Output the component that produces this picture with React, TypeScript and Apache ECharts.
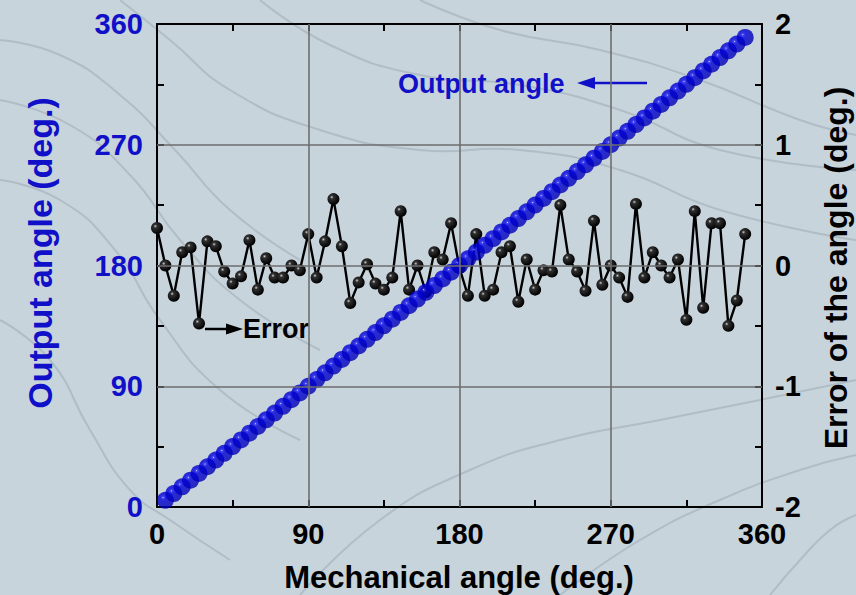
import React, { useEffect, useRef } from "react";
import * as echarts from "echarts";

const errAngles = [0,5,10,15,20,25,30,35,40,45,50,55,60,65,70,75,80,85,90,95,100,105,110,115,120,125,130,135,140,145,150,155,160,165,170,175,180,185,190,195,200,205,210,215,220,225,230,235,240,245,250,255,260,265,270,275,280,285,290,295,300,305,310,315,320,325,330,335,340,345,350];
const errValues = [0.31,0.00,-0.25,0.11,0.15,-0.48,0.20,0.16,-0.05,-0.15,-0.09,0.21,-0.20,0.06,-0.10,-0.10,0.00,-0.04,0.26,-0.10,0.20,0.55,0.16,-0.31,-0.14,0.01,-0.15,-0.20,-0.10,0.45,-0.20,0.00,-0.22,0.11,0.05,0.35,-0.02,-0.25,0.26,-0.25,-0.20,0.11,0.16,-0.30,0.05,-0.20,-0.04,-0.05,0.50,0.05,-0.05,-0.21,0.37,-0.16,0.00,-0.10,-0.26,0.51,-0.10,0.11,0.00,-0.10,0.05,-0.45,0.45,-0.35,0.35,0.35,-0.50,-0.29,0.26];
const mechAngles = [5,10,15,20,25,30,35,40,45,50,55,60,65,70,75,80,85,90,95,100,105,110,115,120,125,130,135,140,145,150,155,160,165,170,175,180,185,190,195,200,205,210,215,220,225,230,235,240,245,250,255,260,265,270,275,280,285,290,295,300,305,310,315,320,325,330,335,340,345,350];
const outputAngles = [5,10,15,20,25,30,35,40,45,50,55,60,65,70,75,80,85,90,95,100,105,110,115,120,125,130,135,140,145,150,155,160,165,170,175,180,185,190,195,200,205,210,215,220,225,230,235,240,245,250,255,260,265,270,275,280,285,290,295,300,305,310,315,320,325,330,335,340,345,350];
const angleTicks = [0, 90, 180, 270, 360];
const gridAngles = [90, 180, 270];
const errorTicks = [-2, -1, 0, 1, 2];

const FONT = "'Liberation Sans', Arial, sans-serif";
const BLUE = "#1010c8";
const BG = "#c8d4dc";

// decorative background contour lines (page pixels)
const contours: number[][][] = [
  [[0, 40], [60, 55], [120, 95], [175, 150], [230, 210], [300, 260]],
  [[0, 100], [70, 125], [130, 175], [180, 240], [240, 300], [320, 350]],
  [[0, 180], [60, 200], [115, 250], [160, 320], [220, 390], [300, 440]],
  [[0, 320], [50, 360], [90, 430], [130, 490], [170, 520], [230, 560]],
  [[120, 0], [170, 40], [230, 90], [320, 130], [420, 150], [520, 150], [620, 170], [720, 210], [856, 240]],
  [[260, 0], [330, 45], [420, 75], [520, 85], [620, 110], [720, 150], [856, 170]],
  [[420, 0], [500, 30], [600, 50], [700, 80], [800, 120], [856, 135]],
  [[300, 595], [380, 520], [470, 470], [560, 440], [660, 420], [760, 400], [856, 380]],
  [[560, 595], [640, 540], [720, 500], [800, 470], [856, 455]],
  [[770, 595], [800, 560], [830, 530], [856, 515]],
];

export default function App() {
  const ref = useRef<HTMLDivElement>(null);
  useEffect(() => {
    if (!ref.current) return;
    const chart = echarts.init(ref.current, undefined, { renderer: "svg" });
    const axisLine = () => ({ show: true, onZero: false, lineStyle: { color: "#000", width: 2 } });
    const tick = () => ({ show: true, inside: true, length: 7, lineStyle: { color: "#000", width: 2 } });
    const blueBall = {
      type: "radial", x: 0.36, y: 0.34, r: 0.66,
      colorStops: [
        { offset: 0, color: "#e6e6ff" },
        { offset: 0.08, color: "#2424ff" },
        { offset: 0.25, color: "#0000d8" },
        { offset: 1, color: "#0000b4" },
      ],
    };
    const blackBall = {
      type: "radial", x: 0.36, y: 0.34, r: 0.66,
      colorStops: [
        { offset: 0, color: "#d0d0d0" },
        { offset: 0.22, color: "#303030" },
        { offset: 1, color: "#000" },
      ],
    };
    const labelFmt = (list: number[]) => (v: number) => (list.includes(v) ? String(v) : "");
    chart.setOption({
      animation: false,
      backgroundColor: BG,
      grid: { left: 157, right: 94, top: 24, bottom: 88, containLabel: false },
      xAxis: [
        {
          type: "value", min: 0, max: 360, interval: 45, position: "bottom",
          axisLine: axisLine(), axisTick: tick(), splitLine: { show: false },
          axisLabel: {
            show: true, margin: 12, color: "#000", fontSize: 29, fontWeight: "bold", fontFamily: FONT,
            formatter: labelFmt(angleTicks),
          },
        },
        {
          type: "value", min: 0, max: 360, interval: 45, position: "top",
          axisLine: axisLine(), axisTick: tick(), splitLine: { show: false }, axisLabel: { show: false },
        },
      ],
      yAxis: [
        {
          type: "value", min: 0, max: 360, interval: 45, position: "left",
          axisLine: axisLine(), axisTick: tick(), splitLine: { show: false },
          axisLabel: {
            show: true, margin: 14, color: BLUE, fontSize: 29, fontWeight: "bold", fontFamily: FONT,
            formatter: labelFmt(angleTicks),
          },
        },
        {
          type: "value", min: -2, max: 2, interval: 0.5, position: "right",
          axisLine: axisLine(), axisTick: tick(), splitLine: { show: false },
          axisLabel: {
            show: true, margin: 13, color: "#000", fontSize: 29, fontWeight: "bold", fontFamily: FONT,
            formatter: labelFmt(errorTicks),
          },
        },
      ],
      series: [
        {
          type: "line", xAxisIndex: 0, yAxisIndex: 0, z: 1, data: [],
          markLine: {
            silent: true, symbol: "none", label: { show: false },
            lineStyle: { color: "#6e6e6e", width: 1.6, type: "solid" },
            data: [
              ...gridAngles.map((a) => ({ xAxis: a })),
              ...gridAngles.map((a) => ({ yAxis: a })),
            ],
          },
        },
        {
          type: "line", xAxisIndex: 0, yAxisIndex: 1, z: 3,
          data: errAngles.map((a, i) => [a, errValues[i]]),
          lineStyle: { color: "#000", width: 2.4 },
          symbol: "circle", symbolSize: 12, showSymbol: true,
          itemStyle: { color: blackBall, borderWidth: 0 },
        },
        {
          type: "scatter", xAxisIndex: 0, yAxisIndex: 0, z: 4,
          data: mechAngles.map((a, i) => [a, outputAngles[i]]),
          symbol: "circle", symbolSize: 17,
          itemStyle: { color: blueBall, borderWidth: 0 },
        },
      ],
      graphic: [
        ...contours.map((pts) => ({
          type: "polyline", z: -5, silent: true,
          shape: { points: pts, smooth: 0.5 },
          style: { stroke: "#8f9ba5", lineWidth: 2, fill: "none", opacity: 0.4 },
        })),
        {
          type: "text", x: 40, y: 253, rotation: Math.PI / 2,
          style: { text: "Output angle (deg.)", fill: BLUE, font: `bold 34px ${FONT}`, textAlign: "center", textVerticalAlign: "middle", align: "center", verticalAlign: "middle" },
        },
        {
          type: "text", x: 836, y: 268, rotation: Math.PI / 2,
          style: { text: "Error of the angle (deg.)", fill: "#000", font: `bold 32px ${FONT}`, textAlign: "center", textVerticalAlign: "middle", align: "center", verticalAlign: "middle" },
        },
        {
          type: "text", x: 459, y: 577,
          style: { text: "Mechanical angle (deg.)", fill: "#000", font: `bold 31px ${FONT}`, textAlign: "center", textVerticalAlign: "middle", align: "center", verticalAlign: "middle" },
        },
        {
          type: "text", x: 398, y: 84,
          style: { text: "Output angle", fill: BLUE, font: `bold 27px ${FONT}`, textAlign: "left", textVerticalAlign: "middle", align: "left", verticalAlign: "middle" },
        },
        { type: "line", shape: { x1: 590, y1: 83, x2: 647, y2: 83 }, style: { stroke: BLUE, lineWidth: 2.5 } },
        { type: "polygon", shape: { points: [[577, 83], [595, 77], [595, 89]] }, style: { fill: BLUE } },
        {
          type: "text", x: 243, y: 329,
          style: { text: "Error", fill: "#000", font: `bold 27px ${FONT}`, textAlign: "left", textVerticalAlign: "middle", align: "left", verticalAlign: "middle" },
        },
        { type: "line", shape: { x1: 205, y1: 329, x2: 232, y2: 329 }, style: { stroke: "#000", lineWidth: 2.5 } },
        { type: "polygon", shape: { points: [[243, 329], [226, 323.5], [226, 334.5]] }, style: { fill: "#000" } },
      ],
    });
    return () => chart.dispose();
  }, []);
  return (
    <div
      ref={ref}
      style={{ position: "fixed", left: 0, top: 0, width: 856, height: 595, background: BG }}
    />
  );
}
